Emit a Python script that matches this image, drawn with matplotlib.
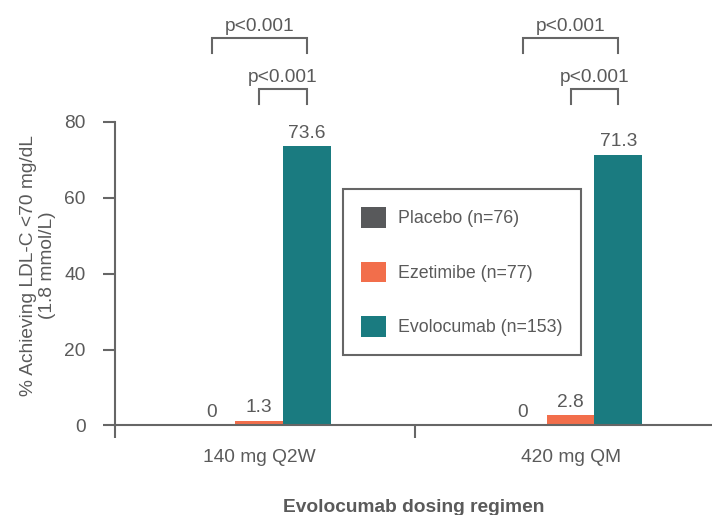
import numpy as np
import matplotlib
matplotlib.use("Agg")
import matplotlib.pyplot as plt

plt.rcParams['font.family'] = ['Liberation Sans', 'DejaVu Sans']

# data
regimens = ["140 mg Q2W", "420 mg QM"]
series = ["Placebo (n=76)", "Ezetimibe (n=77)", "Evolocumab (n=153)"]
placebo = [0, 0]
ezetimibe = [1.3, 2.8]
evolocumab = [73.6, 71.3]
value_labels = [["0", "1.3", "73.6"], ["0", "2.8", "71.3"]]
p_text = "p<0.001"

colors = ["#58595B", "#F26E4B", "#1A7B80"]
text_c = "#5a5a5a"
line_c = "#666666"
fs = 13.8

fig = plt.figure(figsize=(7.12, 5.15), dpi=100)
ax = fig.add_axes([0.1615, 0.1738, 0.8385, 0.5899])

centers = np.arange(len(regimens)) + 0.5
w = 0.153
x_left = 0.0366
ax.set_xlim(x_left, 1.954)
ax.set_ylim(0, 80)

values = [placebo, ezetimibe, evolocumab]
for i, (name, vals) in enumerate(zip(series, values)):
    xs = centers + (i - 1) * w
    ax.bar(xs, vals, width=w, color=colors[i], label=name, zorder=2)
    for j, v in enumerate(vals):
        ax.annotate(value_labels[j][i], (xs[j], v), xytext=(0, 6),
                    textcoords="offset points", ha="center", va="baseline",
                    fontsize=fs, color=text_c)

# significance brackets
def bracket(x0, x1, ytop, ybot):
    ax.plot([x0, x0, x1, x1], [ybot, ytop, ytop, ybot], color=line_c,
            lw=1.5, clip_on=False, solid_joinstyle="miter")
    ax.annotate(p_text, ((x0 + x1) / 2, ytop), xytext=(0, 5),
                textcoords="offset points", ha="center", va="baseline",
                fontsize=fs, color=text_c, annotation_clip=False)

for c in centers:
    bracket(c - w, c + w, 102.05, 98.2)
    bracket(c, c + w, 88.7, 84.6)

# axes styling
for s in ["top", "right"]:
    ax.spines[s].set_visible(False)
for s in ["left", "bottom"]:
    ax.spines[s].set_color(line_c)
    ax.spines[s].set_linewidth(1.5)

ax.set_yticks([0, 20, 40, 60, 80])
ax.tick_params(axis="y", direction="out", length=9, width=1.5, color=line_c,
               labelsize=fs, labelcolor=text_c, pad=12)
ax.set_xticks([x_left, 1.0])
ax.set_xticklabels(["", ""])
ax.set_xticks(centers, minor=True)
ax.set_xticklabels(regimens, minor=True)
ax.tick_params(axis="x", which="major", direction="out", length=9, width=1.5,
               color=line_c)
ax.tick_params(axis="x", which="minor", length=0, labelsize=fs,
               labelcolor=text_c, pad=17)

ax.set_ylabel("% Achieving LDL-C <70 mg/dL\n(1.8 mmol/L)", fontsize=fs,
              color=text_c, linespacing=1.2)
ax.yaxis.set_label_coords(-0.098, 0.528)
ax.set_xlabel("Evolocumab dosing regimen", fontsize=fs, fontweight="bold",
              color=text_c, labelpad=24)

lfs = 12.8
leg = ax.legend(loc="upper left", bbox_to_anchor=(343 / 712, 1 - 189 / 515),
                bbox_transform=fig.transFigure, borderaxespad=0,
                fontsize=lfs, frameon=True, fancybox=False, framealpha=1,
                handlelength=1.4, handleheight=1.4, handletextpad=0.67,
                labelspacing=1.91, borderpad=1.02, labelcolor=text_c)
leg.get_frame().set_edgecolor(line_c)
leg.get_frame().set_linewidth(1.5)
leg.set_zorder(5)

fig.savefig("out.png", dpi=100)
